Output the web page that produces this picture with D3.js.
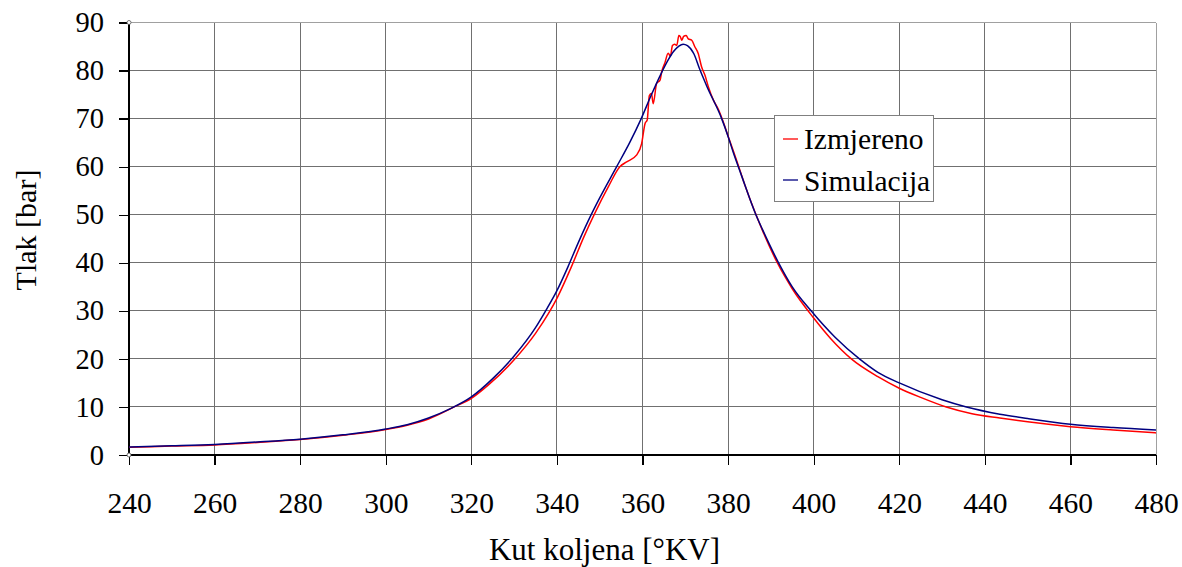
<!DOCTYPE html>
<html>
<head>
<meta charset="utf-8">
<script src="https://cdn.jsdelivr.net/npm/d3@7"></script>
<style>
  html, body { margin: 0; padding: 0; background: #fff; }
  svg { display: block; }
  text { font-family: "Liberation Serif", "Times New Roman", serif; fill: #000; }
</style>
</head>
<body>
<svg id="chart" width="1182" height="567"></svg>
<script>
// ---- Data ----
const xTicks = [240, 260, 280, 300, 320, 340, 360, 380, 400, 420, 440, 460, 480];
const yTicks = [0, 10, 20, 30, 40, 50, 60, 70, 80, 90];

const measuredAngle = [240, 250, 260, 270, 280, 290, 300, 305, 310, 316, 320, 324, 330, 335, 338, 340, 343.4, 346.3, 348.9, 352, 354.7, 356.3, 358.6, 359.8, 360.6, 361.1, 361.6, 362.1, 362.5, 363.3, 364.1, 364.5, 365.2, 366, 366.5, 367, 367.5, 368, 368.5, 368.8, 369.2, 369.6, 370.2, 370.7, 371.5, 372.2, 373, 373.8, 374.6, 375.4, 376.6, 377.8, 379, 380.3, 382, 384, 386.3, 388, 391.5, 395, 400, 404, 408.8, 415, 420, 425, 431, 437, 443.5, 450, 460, 470, 480];
const measuredPressure = [1.6, 1.85, 2.1, 2.6, 3.2, 4.1, 5.3, 6.2, 7.5, 10, 11.8, 14.6, 19.8, 25.3, 29.4, 32.6, 39.2, 45.4, 50.4, 55.8, 60, 61, 62.4, 64.8, 69, 69.7, 74.8, 75.2, 73.1, 77.3, 78, 79.8, 81.5, 83.6, 83, 85.2, 85.5, 85.2, 87.3, 87.1, 86.3, 87.1, 87.3, 86.6, 86.3, 85.0, 83.6, 80.8, 79, 76.6, 73.8, 71.8, 69, 65.6, 61.3, 56, 50.5, 46.8, 40, 34.6, 28.5, 24.2, 20, 16.3, 13.9, 12, 10, 8.6, 7.7, 6.9, 5.9, 5.2, 4.6];

const simAngle = [240, 250, 260, 270, 280, 290, 300, 305, 310, 315, 320, 325, 330, 335, 337.5, 340, 342.5, 345, 347.9, 350, 353.9, 357, 359.6, 362, 364.1, 366, 367.2, 368.5, 369.5, 370.5, 372, 373.4, 375, 378.5, 380, 381.2, 383, 386.5, 388, 391.8, 395, 399.4, 405, 410.7, 415, 420, 430, 435.7, 443.5, 450, 460, 470, 480];
const simPressure = [1.65, 1.9, 2.2, 2.7, 3.3, 4.2, 5.4, 6.3, 7.7, 9.6, 12.1, 15.9, 20.6, 26.5, 30.2, 34.2, 39.0, 44.2, 49.8, 53.5, 59.9, 65.0, 69.8, 74.8, 78.9, 82.2, 83.9, 85.1, 85.5, 85.2, 83.5, 80.2, 76.8, 70, 66.3, 63, 58.5, 50, 47, 40, 35, 30, 24.5, 20, 17.2, 15.0, 11.5, 10, 8.5, 7.6, 6.4, 5.7, 5.2];

const seriesNames = ["Izmjereno", "Simulacija"];
const seriesColors = ["#ff0000", "#000080"];

// ---- Layout ----
const svg = d3.select("#chart");
const mLeft = 129, mRight = 1156, mTop = 22.5, mBottom = 455;

const x = d3.scaleLinear().domain([240, 480]).range([mLeft, mRight]);
const y = d3.scaleLinear().domain([0, 90]).range([mBottom, mTop]);

// gridlines
const grid = svg.append("g").attr("shape-rendering", "crispEdges");
grid.selectAll("line.v").data(xTicks.slice(1)).enter().append("line")
  .attr("x1", d => x(d)).attr("x2", d => x(d))
  .attr("y1", mTop).attr("y2", mBottom)
  .attr("stroke", d => d === 480 ? "#a0a0a0" : "#707070").attr("stroke-width", 1);
grid.selectAll("line.h").data(yTicks.slice(1)).enter().append("line")
  .attr("x1", mLeft).attr("x2", mRight)
  .attr("y1", d => y(d)).attr("y2", d => y(d))
  .attr("stroke", d => d === 90 ? "#a0a0a0" : "#707070").attr("stroke-width", 1);

// axes
const xAxis = d3.axisBottom(x).tickValues(xTicks).tickSize(10).tickPadding(10).tickFormat(d3.format("d"));
const yAxis = d3.axisLeft(y).tickValues(yTicks).tickSize(10).tickPadding(15).tickFormat(d3.format("d"));

const gx = svg.append("g").attr("transform", `translate(0,${mBottom})`).call(xAxis);
const gy = svg.append("g").attr("transform", `translate(${mLeft},0)`).call(yAxis);
[gx, gy].forEach(g => {
  g.selectAll("path.domain").attr("stroke", "#000").attr("stroke-width", 1.5).attr("shape-rendering", "crispEdges");
  g.selectAll(".tick line").attr("stroke", "#000").attr("stroke-width", 1.3).attr("shape-rendering", "crispEdges");
  g.selectAll(".tick text").attr("font-family", "Liberation Serif, Times New Roman, serif").attr("fill", "#000");
});
gx.selectAll(".tick text").attr("font-size", 29.5).attr("y", 58).attr("dy", 0);
gy.selectAll(".tick text").attr("font-size", 28.5);
gx.select("path.domain").attr("d", `M${mLeft},0H${mRight}`);
gy.select("path.domain").attr("d", `M0,${mTop}V${mBottom}`);

// corner markers
svg.selectAll("circle.corner").data([90, 0]).enter().append("circle")
  .attr("cx", mLeft).attr("cy", d => y(d)).attr("r", 2)
  .attr("fill", "#fff").attr("stroke", "#555").attr("stroke-width", 0.8);

// lines
svg.append("clipPath").attr("id", "plotclip").append("rect")
  .attr("x", mLeft).attr("y", mTop - 2).attr("width", mRight - mLeft).attr("height", mBottom - mTop + 2);

const measured = measuredAngle.map((a, i) => [a, measuredPressure[i]]);
const sim = simAngle.map((a, i) => [a, simPressure[i]]);
const line = d3.line().x(d => x(d[0])).y(d => y(d[1])).curve(d3.curveMonotoneX);

svg.append("path").datum(measured).attr("d", line)
  .attr("fill", "none").attr("stroke", seriesColors[0]).attr("stroke-width", 1.5)
  .attr("clip-path", "url(#plotclip)");
svg.append("path").datum(sim).attr("d", line)
  .attr("fill", "none").attr("stroke", seriesColors[1]).attr("stroke-width", 1.5)
  .attr("clip-path", "url(#plotclip)");

// legend
const lg = svg.append("g");
lg.append("rect").attr("x", 774.5).attr("y", 115.5).attr("width", 159).attr("height", 86)
  .attr("fill", "#fff").attr("stroke", "#808080").attr("stroke-width", 1);
seriesNames.forEach((name, i) => {
  const cy = 139 + i * 41;
  lg.append("line").attr("x1", 783).attr("x2", 798).attr("y1", cy).attr("y2", cy)
    .attr("stroke", seriesColors[i]).attr("stroke-width", 1.3);
  lg.append("text").attr("x", 804).attr("y", 149 + i * 41.5).attr("font-size", 29.5).text(name);
});

// axis titles
svg.append("text").attr("x", 604.5).attr("y", 559.5)
  .attr("text-anchor", "middle").attr("font-size", 31).text("Kut koljena [°KV]");
svg.append("text").attr("transform", `translate(36,230) rotate(-90)`)
  .attr("text-anchor", "middle").attr("font-size", 30).text("Tlak [bar]");
</script>
</body>
</html>
